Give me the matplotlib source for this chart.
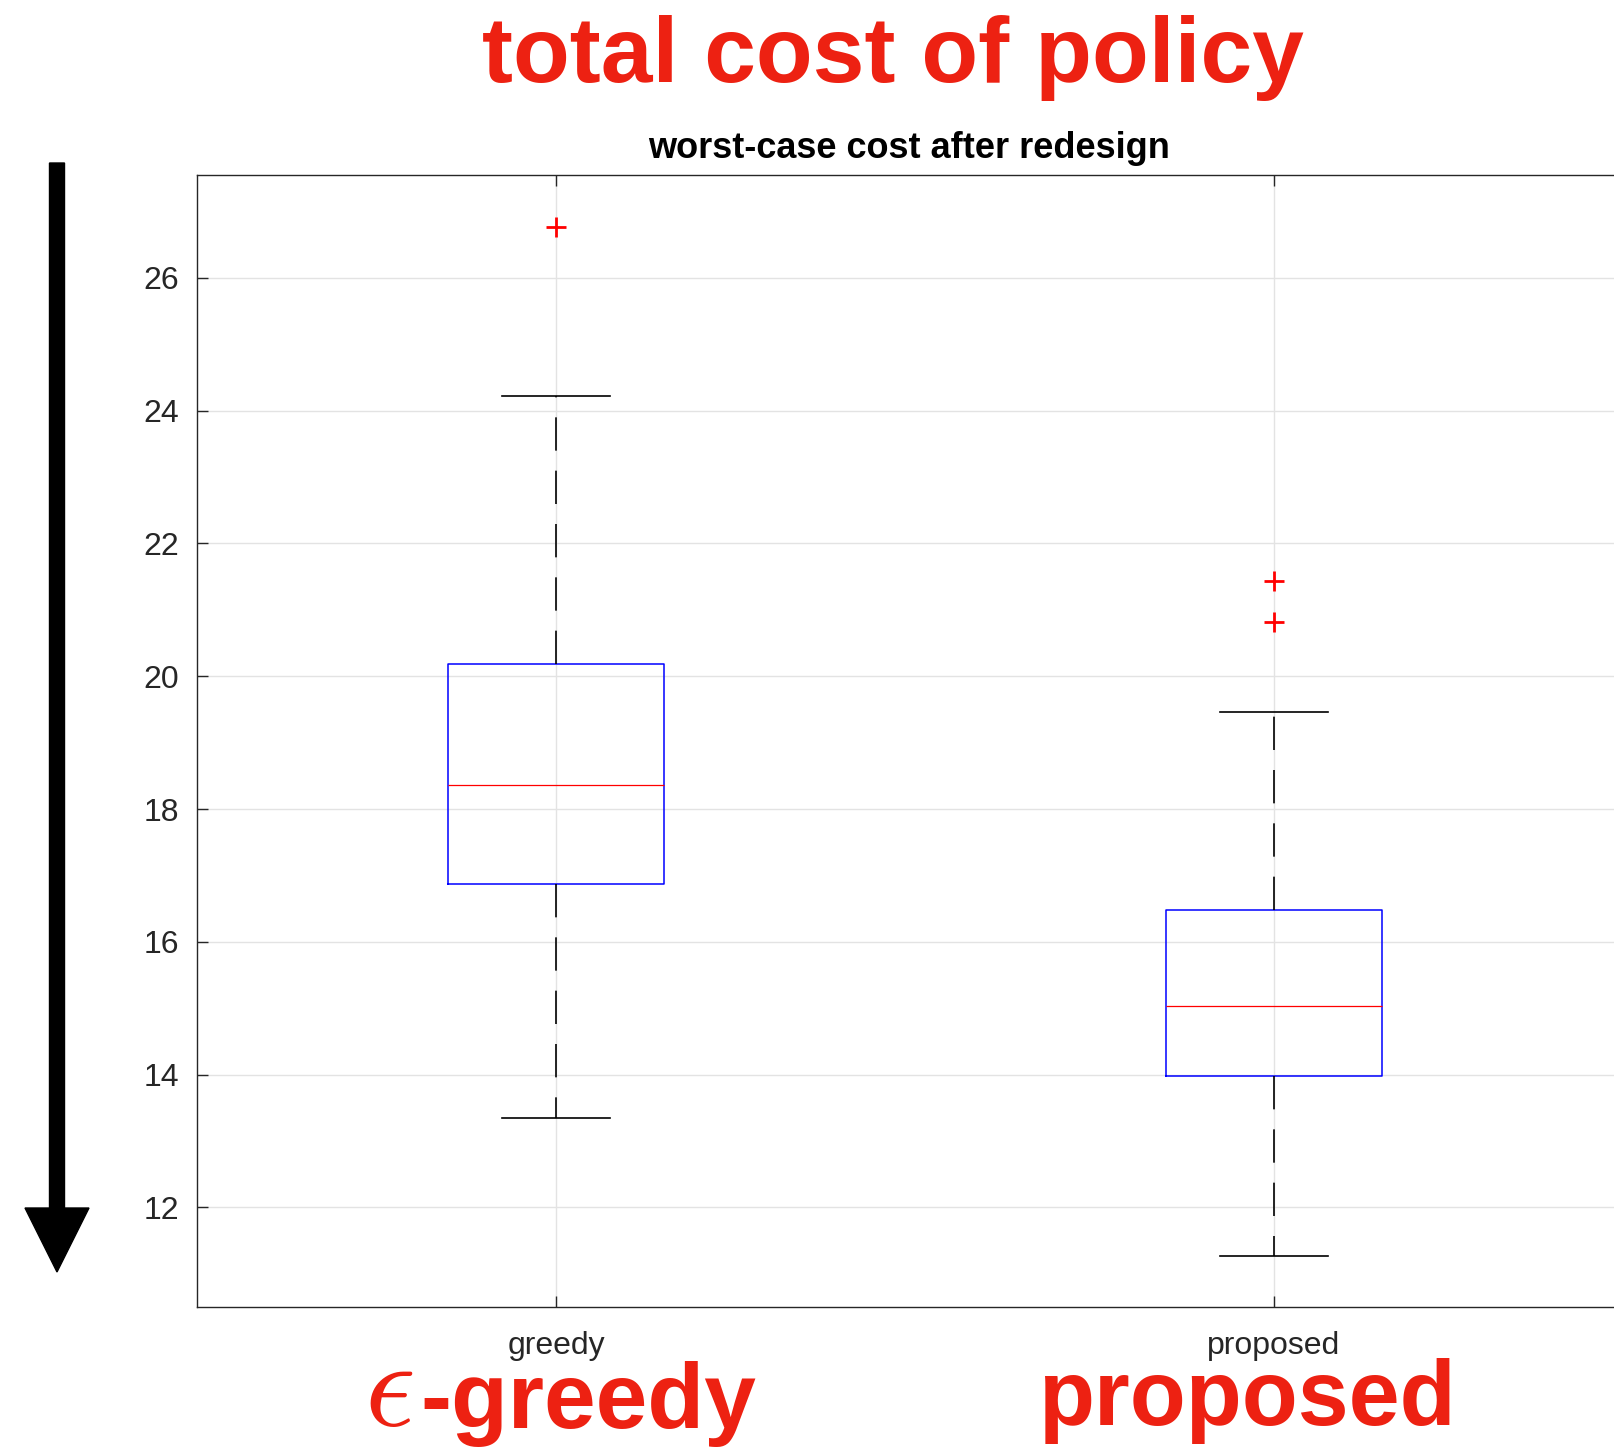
import matplotlib
matplotlib.use("Agg")
import matplotlib.pyplot as plt
from matplotlib.patches import FancyArrow

plt.rcParams['font.family'] = ['Liberation Sans', 'DejaVu Sans']
plt.rcParams['mathtext.fontset'] = 'cm'

# box statistics
labels = ['greedy', 'proposed']
medians = [18.36, 15.04]
q1s = [16.87, 13.98]
q3s = [20.19, 16.48]
whis_lo = [13.35, 11.27]
whis_hi = [24.22, 19.46]
outliers = [[26.76], [21.43, 20.81]]

yticks = [12, 14, 16, 18, 20, 22, 24, 26]

stats = []
for i in range(len(labels)):
    stats.append(dict(label=labels[i], med=medians[i], q1=q1s[i], q3=q3s[i],
                      whislo=whis_lo[i], whishi=whis_hi[i], fliers=outliers[i]))

red = '#ED2112'
dark = '#262626'

fig = plt.figure(figsize=(16.15, 14.49), dpi=100)
# axes runs slightly past the right edge of the figure, like the original
ax = fig.add_axes([197 / 1615, 1 - 1307 / 1449, 1436 / 1615, 1132 / 1449])

ax.bxp(stats, positions=[1, 2], widths=0.3,
       boxprops=dict(color='blue', linewidth=1.1),
       medianprops=dict(color='red', linewidth=0.9),
       whiskerprops=dict(color='black', linewidth=1.2, dashes=(20, 12)),
       capprops=dict(color='black', linewidth=1.2),
       capwidths=0.15,
       flierprops=dict(marker='+', markeredgecolor='red', markersize=14,
                       markeredgewidth=2.0, linestyle='none'))

ax.set_xlim(0.5, 2.5)
ax.set_ylim(10.5, 27.55)
ax.set_yticks(yticks)
ax.set_xticks([1, 2])
ax.set_xticklabels(labels)
ax.grid(True, color='#e3e3e3', linewidth=1.0)
ax.set_axisbelow(True)
ax.tick_params(direction='in', length=8, width=1.0, colors=dark,
               labelsize=23, top=True, right=True)
ax.tick_params(axis='x', pad=17)
ax.tick_params(axis='y', pad=13)
for sp in ax.spines.values():
    sp.set_color(dark)
    sp.set_linewidth(1.0)

ax.set_title('worst-case cost after redesign', fontsize=26, fontweight='bold',
             pad=12, x=0.4958)

# big red annotations
fig.text(893 / 1615, 1 - 82 / 1449, 'total cost of policy', color=red,
         fontsize=67, fontweight='bold', ha='center', va='baseline')
fig.text(413 / 1615, 1 - 1426 / 1449, r'$\epsilon$', color=red,
         fontsize=90, ha='right', va='baseline')
fig.text(420 / 1615, 1 - 1428 / 1449, '-greedy', color=red,
         fontsize=67, fontweight='bold', ha='left', va='baseline')
fig.text(1248 / 1615, 1 - 1425 / 1449, 'proposed', color=red,
         fontsize=66, fontweight='bold', ha='center', va='baseline')

# arrow pointing down on the left
arrow = FancyArrow(57 / 1615, 1 - 163 / 1449, 0, -(1272 - 163) / 1449,
                   width=15 / 1615, head_width=64 / 1615, head_length=64 / 1449,
                   length_includes_head=True, color='black',
                   transform=fig.transFigure)
fig.patches.append(arrow)

fig.savefig('out.png', dpi=100)
